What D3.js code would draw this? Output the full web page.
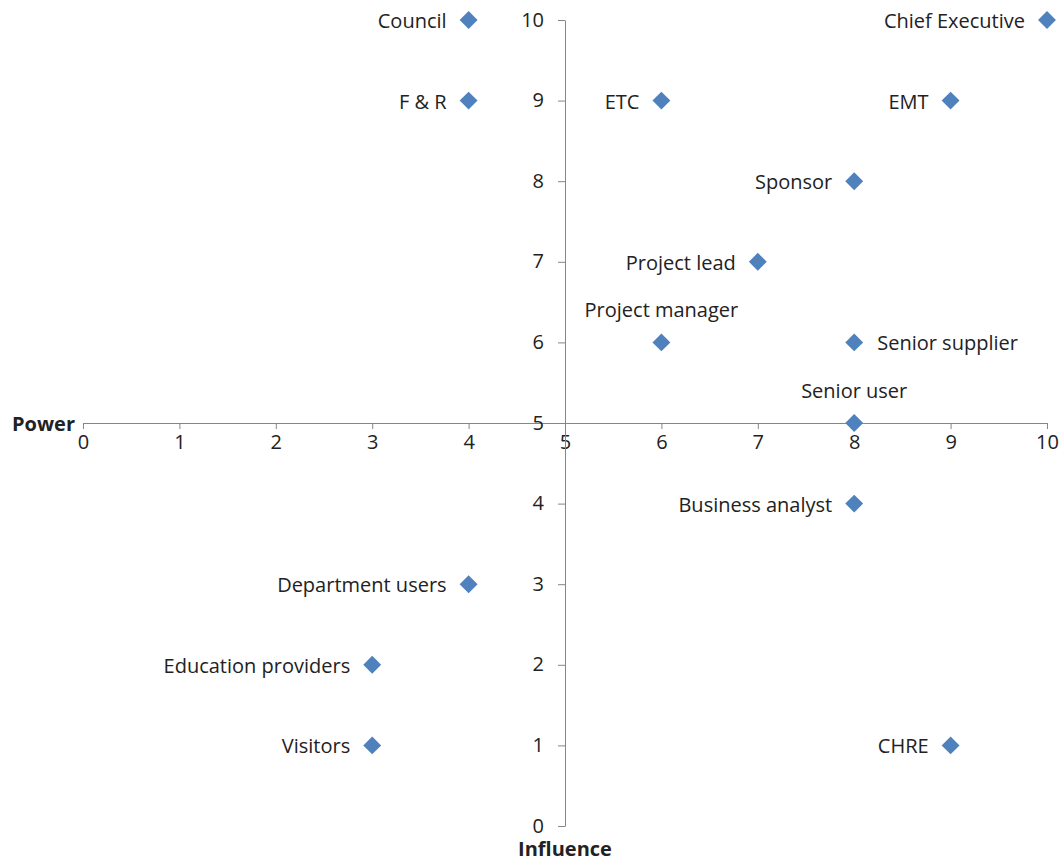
<!DOCTYPE html>
<html>
<head>
<meta charset="utf-8">
<script src="https://cdn.jsdelivr.net/npm/d3@7"></script>
<style>
  body { margin: 0; background: #fff; }
  text { font-family: "Open Sans", sans-serif; }
</style>
</head>
<body>
<div id="chart"></div>
<script>
// stakeholders: influence (x), power (y), label side
const names = ["Council", "F & R", "ETC", "Chief Executive", "EMT", "Sponsor", "Project lead",
  "Project manager", "Senior supplier", "Senior user", "Business analyst",
  "Department users", "Education providers", "Visitors", "CHRE"];
const influence = [4, 4, 6, 10, 9, 8, 7, 6, 8, 8, 8, 4, 3, 3, 9];
const power = [10, 9, 9, 10, 9, 8, 7, 6, 6, 5, 4, 3, 2, 1, 1];
const labelSide = ["left", "left", "left", "left", "left", "left", "left",
  "top", "right", "top", "left", "left", "left", "left", "left"];
const ticks = [0, 1, 2, 3, 4, 5, 6, 7, 8, 9, 10];

const width = 1064, height = 865;
const svg = d3.select('#chart').append('svg')
  .attr('width', width)
  .attr('height', height);

const x = d3.scaleLinear().domain([0, 10]).range([83, 1047]);
const y = d3.scaleLinear().domain([0, 10]).range([826, 20]);

const axisColor = '#868686';
const fs = '20px';
const ff = '"Open Sans", sans-serif';

// horizontal axis at power = 5
const xAxis = svg.append('g').attr('transform', `translate(0,${y(5)})`)
  .call(d3.axisBottom(x).tickValues(ticks).tickSize(6).tickSizeOuter(0));
xAxis.attr('font-family', ff);
xAxis.select('.domain').attr('stroke', axisColor);
xAxis.selectAll('.tick line').attr('stroke', axisColor);
xAxis.selectAll('.tick text').attr('font-size', fs).attr('fill', '#222')
  .attr('font-family', ff).attr('dy', '0.85em');

// vertical axis at influence = 5
const yAxis = svg.append('g').attr('transform', `translate(${x(5)},0)`)
  .call(d3.axisLeft(y).tickValues(ticks).tickSize(7).tickSizeOuter(0).tickPadding(14));
yAxis.attr('font-family', ff);
yAxis.select('.domain').attr('stroke', axisColor);
yAxis.selectAll('.tick line').attr('stroke', axisColor);
yAxis.selectAll('.tick text').attr('font-size', fs).attr('fill', '#222')
  .attr('font-family', ff).attr('dy', '0.3em');

// axis titles
svg.append('text')
  .attr('x', 75).attr('y', y(5) + 8)
  .attr('text-anchor', 'end')
  .attr('font-size', fs).attr('font-weight', 'bold').attr('fill', '#222')
  .text('Power');
svg.append('text')
  .attr('x', x(5)).attr('y', 856)
  .attr('text-anchor', 'middle')
  .attr('font-size', fs).attr('font-weight', 'bold').attr('fill', '#222')
  .text('Influence');

const data = names.map((n, i) => ({ name: n, x: influence[i], y: power[i], side: labelSide[i] }));

const diamond = d3.symbol().type(d3.symbolSquare).size(160);

const pts = svg.append('g').selectAll('g')
  .data(data)
  .enter().append('g')
  .attr('transform', d => `translate(${x(d.x)},${y(d.y)})`);

pts.append('path')
  .attr('d', diamond)
  .attr('transform', 'rotate(45)')
  .attr('fill', '#4F81BD');

pts.append('text')
  .attr('font-size', fs)
  .attr('fill', '#222')
  .attr('x', d => d.side === 'left' ? -22 : d.side === 'right' ? 23 : 0)
  .attr('y', d => d.side === 'top' ? -32 : 1)
  .attr('dy', '0.35em')
  .attr('text-anchor', d => d.side === 'left' ? 'end' : d.side === 'right' ? 'start' : 'middle')
  .text(d => d.name);
</script>
</body>
</html>
